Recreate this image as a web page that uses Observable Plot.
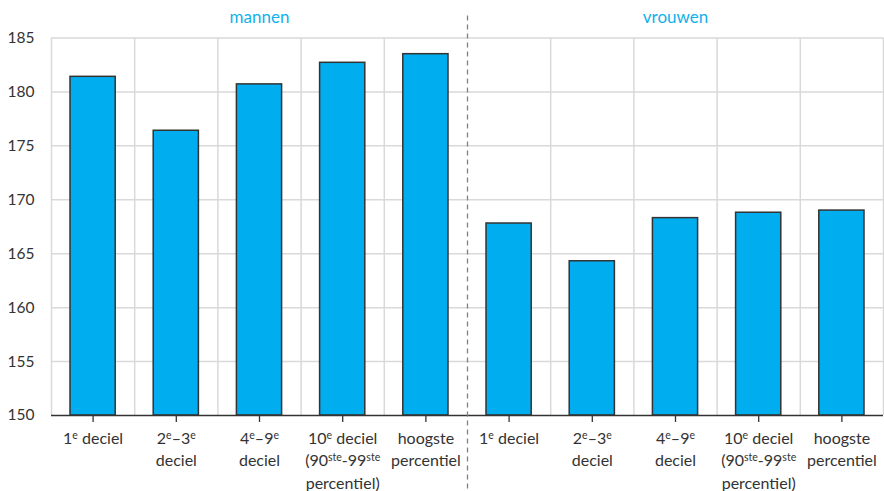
<!DOCTYPE html>
<html>
<head>
<meta charset="utf-8">
<script src="https://cdn.jsdelivr.net/npm/d3@7"></script>
<script src="https://cdn.jsdelivr.net/npm/@observablehq/plot@0.6"></script>
<style>
  html, body { margin: 0; padding: 0; background: #fff; }
  svg { display: block; }
</style>
</head>
<body>
<div id="chart"></div>
<script>
const groups = ["mannen", "vrouwen"];
const mannenLabels = ["1{e} deciel", "2{e}–3{e}\ndeciel", "4{e}–9{e}\ndeciel", "10{e} deciel\n(90{ste}-99{ste}\npercentiel)", "hoogste\npercentiel"];
const vrouwenLabels = ["1{e} deciel", "2{e}–3{e}\ndeciel", "4{e}–9{e}\ndeciel", "10{e} deciel\n(90{ste}-99{ste}\npercentiel)", "hoogste\npercentiel"];
const mannenValues = [181.4, 176.4, 180.7, 182.7, 183.5];
const vrouwenValues = [167.8, 164.3, 168.3, 168.8, 169.0];
const yTicks = [150, 155, 160, 165, 170, 175, 180, 185];

const labelSets = [mannenLabels, vrouwenLabels];
const valueSets = [mannenValues, vrouwenValues];
const rows = groups.flatMap((g, gi) => labelSets[gi].map((l, i) => ({
  group: g, label: l, value: valueSets[gi][i], pos: gi * mannenLabels.length + i
})));
const boundaries = d3.range(rows.length + 1).filter(b => b !== mannenLabels.length);
const blue = "#00aeef";
const ink = "#333333";

const chart = Plot.plot({
  width: 884,
  height: 491,
  marginLeft: 51,
  marginRight: 1,
  marginTop: 37.5,
  marginBottom: 76,
  style: { fontFamily: "Lato, sans-serif", color: ink, background: "#fff", overflow: "visible" },
  x: { domain: [0, rows.length] },
  y: { domain: [yTicks[0], yTicks[yTicks.length - 1]] },
  marks: [
    Plot.gridY({ ticks: yTicks.filter(v => v > yTicks[0]), stroke: "#d9d9d9", strokeOpacity: 1, strokeWidth: 1.5 }),
    Plot.ruleX(boundaries, { stroke: "#d9d9d9", strokeWidth: 1.5 }),
    Plot.rectY(rows, { x1: "pos", x2: d => d.pos + 1, y1: yTicks[0], y2: "value", insetLeft: 19, insetRight: 19, fill: blue, stroke: ink, strokeWidth: 1.5 }),
    Plot.ruleY([yTicks[0]], { stroke: ink, strokeWidth: 1.5 }),
    Plot.ruleX([mannenLabels.length], { stroke: "#808080", strokeWidth: 1.3, strokeDasharray: "5,4", insetTop: -22, insetBottom: -76 }),
    Plot.axisY({ ticks: yTicks, tickSize: 0, tickPadding: 17, fontSize: 15.5, label: null }),
    Plot.axisX({
      ticks: rows.map(d => d.pos + 0.5),
      tickFormat: p => rows[Math.floor(p)].label,
      tickSize: 7, tickPadding: 5, fontSize: 16, lineHeight: 1.42, label: null, stroke: ink, strokeWidth: 1.3
    }),
    Plot.text(groups, {
      x: g => (groups.indexOf(g) + 0.5) * mannenLabels.length,
      text: d => d, frameAnchor: "top", lineAnchor: "middle", dy: -20, fill: "#12b1ea", fontSize: 17
    })
  ]
});

// superscripts: rebuild "{...}" segments as raised tspans
function rebuild(node) {
  const s = node.textContent;
  if (!s.includes("{")) return;
  while (node.firstChild) node.removeChild(node.firstChild);
  const parts = s.split(/[{}]/);
  parts.forEach((p, i) => {
    if (!p) return;
    const t = document.createElementNS("http://www.w3.org/2000/svg", "tspan");
    t.textContent = p;
    if (i % 2 === 1) {
      t.setAttribute("font-size", "0.66em");
      t.setAttribute("baseline-shift", "45%");
    }
    node.appendChild(t);
  });
}
d3.select(chart).selectAll("text").each(function() {
  const tspans = this.querySelectorAll(":scope > tspan");
  if (tspans.length) tspans.forEach(rebuild); else rebuild(this);
});

document.getElementById("chart").appendChild(chart);
</script>
</body>
</html>
